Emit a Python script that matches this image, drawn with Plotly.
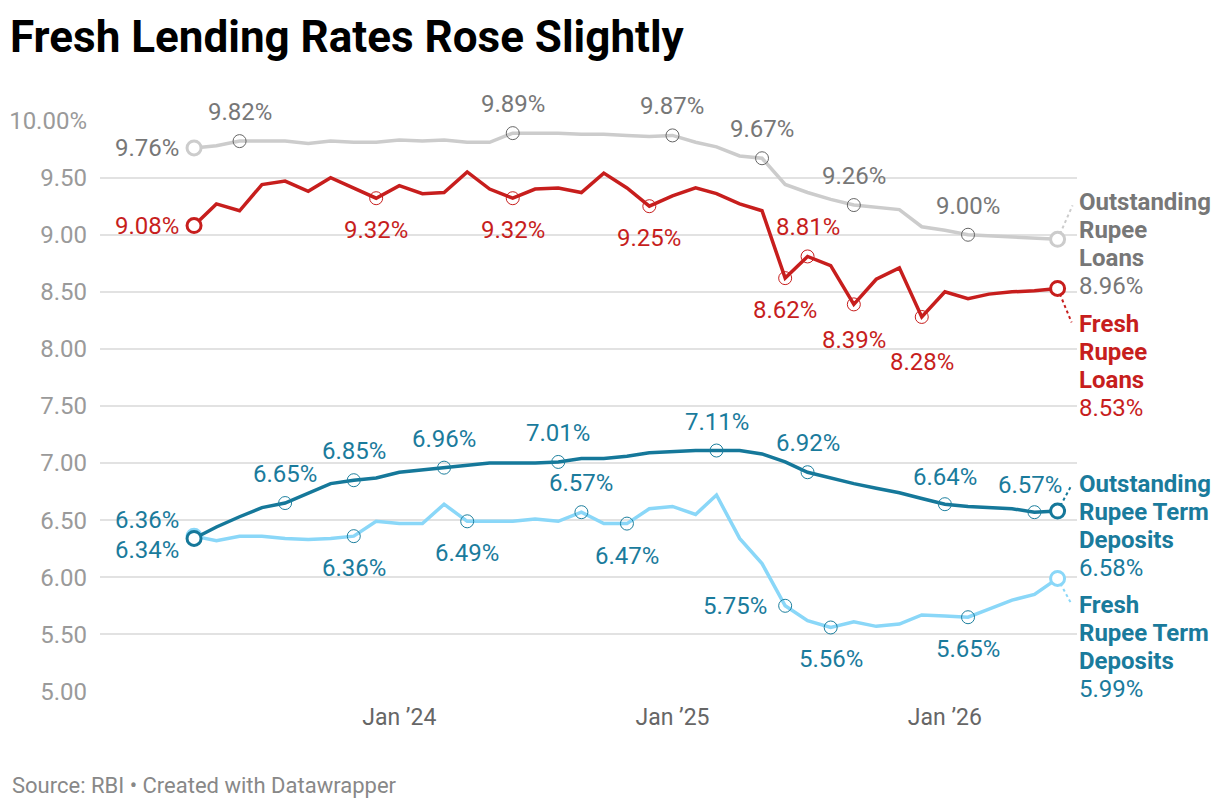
import pandas as pd
import plotly.graph_objects as go

# monthly observations, Apr 2023 - Jun 2026
months = pd.date_range("2023-04-01", periods=39, freq="MS")

outstanding_loans = [9.76, 9.78, 9.82, 9.82, 9.82, 9.80, 9.82, 9.81, 9.81, 9.83,
                     9.82, 9.83, 9.81, 9.81, 9.89, 9.89, 9.89, 9.88, 9.88, 9.87,
                     9.86, 9.87, 9.81, 9.77, 9.69, 9.67, 9.44, 9.37, 9.31, 9.26,
                     9.24, 9.22, 9.07, 9.04, 9.00, 8.99, 8.98, 8.97, 8.96]
fresh_loans = [9.08, 9.27, 9.21, 9.44, 9.47, 9.38, 9.50, 9.41, 9.32, 9.43,
               9.36, 9.37, 9.55, 9.40, 9.32, 9.40, 9.41, 9.37, 9.54, 9.41,
               9.25, 9.34, 9.41, 9.36, 9.27, 9.21, 8.62, 8.81, 8.73, 8.39,
               8.61, 8.71, 8.28, 8.50, 8.44, 8.48, 8.50, 8.51, 8.53]
outstanding_deposits = [6.34, 6.44, 6.53, 6.61, 6.65, 6.74, 6.82, 6.85, 6.87, 6.92,
                        6.94, 6.96, 6.98, 7.00, 7.00, 7.00, 7.01, 7.04, 7.04, 7.06,
                        7.09, 7.10, 7.11, 7.11, 7.11, 7.08, 7.01, 6.92, 6.87, 6.82,
                        6.78, 6.74, 6.69, 6.64, 6.62, 6.61, 6.60, 6.57, 6.58]
fresh_deposits = [6.36, 6.32, 6.36, 6.36, 6.34, 6.33, 6.34, 6.36, 6.49, 6.47,
                  6.47, 6.64, 6.49, 6.49, 6.49, 6.51, 6.49, 6.57, 6.47, 6.47,
                  6.60, 6.62, 6.55, 6.72, 6.34, 6.12, 5.75, 5.62, 5.56, 5.61,
                  5.57, 5.59, 5.67, 5.66, 5.65, 5.72, 5.80, 5.85, 5.99]

y_ticks = [5, 5.5, 6, 6.5, 7, 7.5, 8, 8.5, 9, 9.5, 10]
y_ticktext = ["5.00", "5.50", "6.00", "6.50", "7.00", "7.50", "8.00",
              "8.50", "9.00", "9.50", "10.00%"]
x_ticks = ["2024-01-01", "2025-01-01", "2026-01-01"]
x_ticktext = ["Jan \u201924", "Jan \u201925", "Jan \u201926"]

# index of highlighted point -> label placement (dx, dy in px, anchor)
up, down = (0, 29, "center"), (0, -32, "center")
series = [
    dict(name=["Outstanding", "Rupee", "Loans"], y=outstanding_loans,
         line="#cccccc", ring="#666666", text="#777777",
         labels={0: (-13, 0, "right"), 2: up, 14: up, 21: up, 25: up, 29: up, 34: up},
         end_top=37, conn=(15, 34)),
    dict(name=["Fresh", "Rupee", "Loans"], y=fresh_loans,
         line="#c71e1d", ring="#c71e1d", text="#c71e1d",
         labels={0: (-13, 0, "right"), 8: down, 14: down, 20: down, 26: down,
                 27: up, 29: (0, -36, "center"), 32: (0, -45, "center")},
         end_top=-36, conn=(14, -34)),
    dict(name=["Outstanding", "Rupee Term", "Deposits"], y=outstanding_deposits,
         line="#15789a", ring="#1d7f9e", text="#1a7b9c",
         labels={0: (-13, -12, "right"), 4: up, 7: up, 11: up, 16: up, 23: up,
                 27: up, 33: (0, 27, "center"), 37: (-4, 27, "center")},
         end_top=27, conn=(14, 26)),
    dict(name=["Fresh", "Rupee Term", "Deposits"], y=fresh_deposits,
         line="#8ad7f8", ring="#1d7f9e", text="#1a7b9c",
         labels={0: (-13, 16, "right"), 7: down, 12: down, 17: up, 19: down,
                 26: (-16, 0, "right"), 28: down, 34: down},
         end_top=-27, conn=(13, -24)),
]

fig = go.Figure()
annotations = []
shapes = []
# draw light blue first so dark teal sits on top
for s in [series[3], series[0], series[1], series[2]]:
    fig.add_trace(go.Scatter(x=months, y=s["y"], mode="lines",
                             line=dict(color=s["line"], width=3.5),
                             hoverinfo="skip", showlegend=False))
    idx = [i for i in s["labels"] if i != 0]
    fig.add_trace(go.Scatter(x=[months[i] for i in idx], y=[s["y"][i] for i in idx],
                             mode="markers",
                             marker=dict(symbol="circle-open", size=13, color=s["ring"],
                                         line=dict(width=1, color=s["ring"])),
                             hoverinfo="skip", showlegend=False))
    fig.add_trace(go.Scatter(x=[months[0], months[-1]], y=[s["y"][0], s["y"][-1]],
                             mode="markers",
                             marker=dict(symbol="circle", size=14, color="white",
                                         line=dict(width=3, color=s["line"])),
                             hoverinfo="skip", showlegend=False))
    for i, (dx, dy, anchor) in s["labels"].items():
        annotations.append(dict(x=months[i], y=s["y"][i], xref="x", yref="y",
                                text=f"{s['y'][i]:.2f}%", showarrow=False,
                                xanchor=anchor, yanchor="middle", xshift=dx, yshift=dy,
                                font=dict(family="Roboto", size=24, color=s["text"])))
    end_lines = [f"<b>{w}</b>" for w in s["name"]] + [f"{s['y'][-1]:.2f}%"]
    for j, txt in enumerate(end_lines):
        annotations.append(dict(x=months[-1], y=s["y"][-1], xref="x", yref="y",
                                text=txt, showarrow=False, xanchor="left",
                                yanchor="middle", xshift=19, yshift=s["end_top"] - 28 * j,
                                font=dict(family="Roboto", size=24, color=s["text"])))
    shapes.append(dict(type="line", xref="x", yref="y", layer="below",
                       xsizemode="pixel", ysizemode="pixel",
                       xanchor=months[-1], yanchor=s["y"][-1],
                       x0=0, y0=0, x1=s["conn"][0], y1=s["conn"][1],
                       line=dict(color=s["line"], width=2, dash="dot")))

annotations.append(dict(text="Source: RBI \u2022 Created with Datawrapper",
                        xref="paper", yref="paper", x=-0.0921, y=-0.1626,
                        xanchor="left", yanchor="middle", showarrow=False,
                        font=dict(family="Roboto", size=22, color="#888888")))

# page body adds an 8px offset, so the figure is drawn 8px smaller
fig.update_layout(
    width=1212, height=800,
    margin=dict(l=92, r=143, t=112, b=116),
    plot_bgcolor="white", paper_bgcolor="white",
    font=dict(family="Roboto"),
    title=dict(text="Fresh Lending Rates Rose Slightly",
               x=2 / 1212, xanchor="left", y=1 - 29 / 800, yanchor="middle",
               font=dict(family="Roboto", size=44, color="#000000", weight=700)),
    xaxis=dict(range=["2022-11-26", "2026-06-27"], tickvals=x_ticks, ticktext=x_ticktext,
               showgrid=False, zeroline=False, showline=False, ticks="",
               ticklabelstandoff=9, automargin=False,
               tickfont=dict(family="Roboto", size=23, color="#666666")),
    yaxis=dict(range=[4.995, 10.005], tickvals=y_ticks, ticktext=y_ticktext,
               showgrid=True, gridcolor="#e2e2e2", gridwidth=2, zeroline=False,
               showline=False, ticks="", ticklabelstandoff=12, automargin=False,
               tickfont=dict(family="Roboto", size=24, color="#9a9a9a")),
    annotations=annotations,
    shapes=shapes,
)

fig.write_html("out.html")
